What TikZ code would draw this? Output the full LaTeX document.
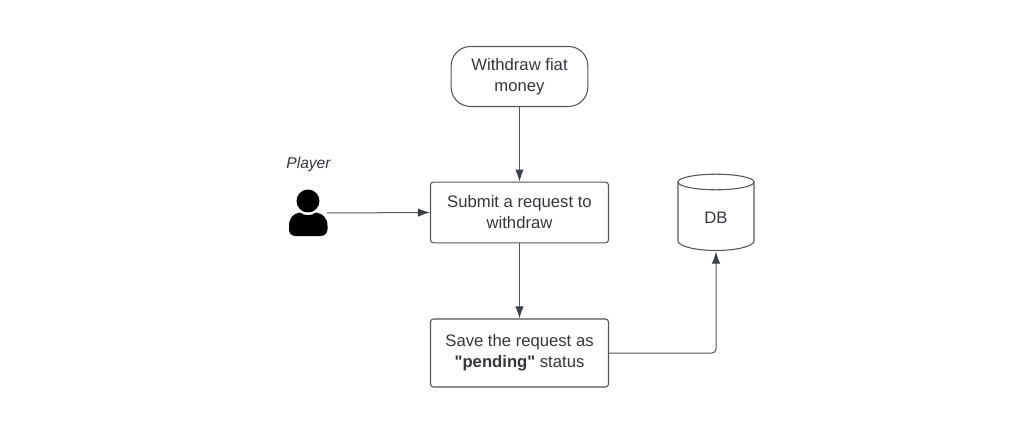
\documentclass[tikz,border=0pt]{standalone}
\usepackage{fontspec}
\setmainfont{Liberation Sans}[Ligatures=TeXOff]
\usetikzlibrary{arrows.meta,shapes.geometric}
\definecolor{ink}{HTML}{50565E}
\definecolor{tip}{HTML}{3A414A}
\definecolor{txt}{HTML}{33373D}
\tikzset{x=0.75pt,y=-0.75pt,
  box/.style={draw=ink,line width=0.8pt,rounded corners=2.2pt,align=center,text=txt,font=\fontsize{12.5}{15.7}\selectfont,inner sep=0pt},
  link/.style={draw=ink,line width=0.75pt,-{Latex[length=9pt,width=6.3pt,color=tip]}}}
\begin{document}
\begin{tikzpicture}
\useasboundingbox (0,0) rectangle (1024,435);
\node[box,rounded corners=14.5pt,minimum width=102.5pt,minimum height=45pt] (start) at (519.5,76.5) {Withdraw fiat\\money};
\node[box,minimum width=133.5pt,minimum height=45.5pt] (submit) at (519.5,212.5) {Submit a request to\\withdraw};
\node[box,minimum width=133.5pt,minimum height=51pt] (save) at (519.5,353) {\raisebox{0.4pt}{Save the request as}\\\raisebox{0.4pt}{\textbf{"pending"} status}};
\node[font=\fontsize{11.7}{14}\selectfont\itshape,text=txt] (role) at (308.5,164.5) {Player};
% user icon: head and shoulders
\fill[black] (308,201) circle (8.6pt);
\fill[black] (296,236) .. controls (291,236) and (289,233) .. (289,229) -- (289,226)
  .. controls (289,218) and (293,213.5) .. (300,212.5)
  .. controls (304,216) and (312,216) .. (316,212.5)
  .. controls (323,213.5) and (327.5,218) .. (327.5,226) -- (327.5,229)
  .. controls (327.5,233) and (325,236) .. (320,236) -- cycle;
\coordinate (player) at (327,213);
% database cylinder
\draw[draw=ink,line width=0.8pt] (678,182) -- (678,241) .. controls (678,246.5) and (697,250.5) .. (716,250.5)
  .. controls (735,250.5) and (754,246.5) .. (754,241) -- (754,182);
\draw[draw=ink,line width=0.8pt] (716,182) ellipse[x radius=38,y radius=7.8];
\node[text=txt,font=\fontsize{12.5}{15}\selectfont,inner sep=0pt] (db) at (716,218) {DB};
\coordinate (dbbottom) at (716,251.5);
\draw[link] (start) -- (submit);
\draw[link] (submit) -- (save);
\draw[link] (player) -- (submit.west);
\draw[link,rounded corners=3pt] (save.east) -| (dbbottom);
\end{tikzpicture}
\end{document}
